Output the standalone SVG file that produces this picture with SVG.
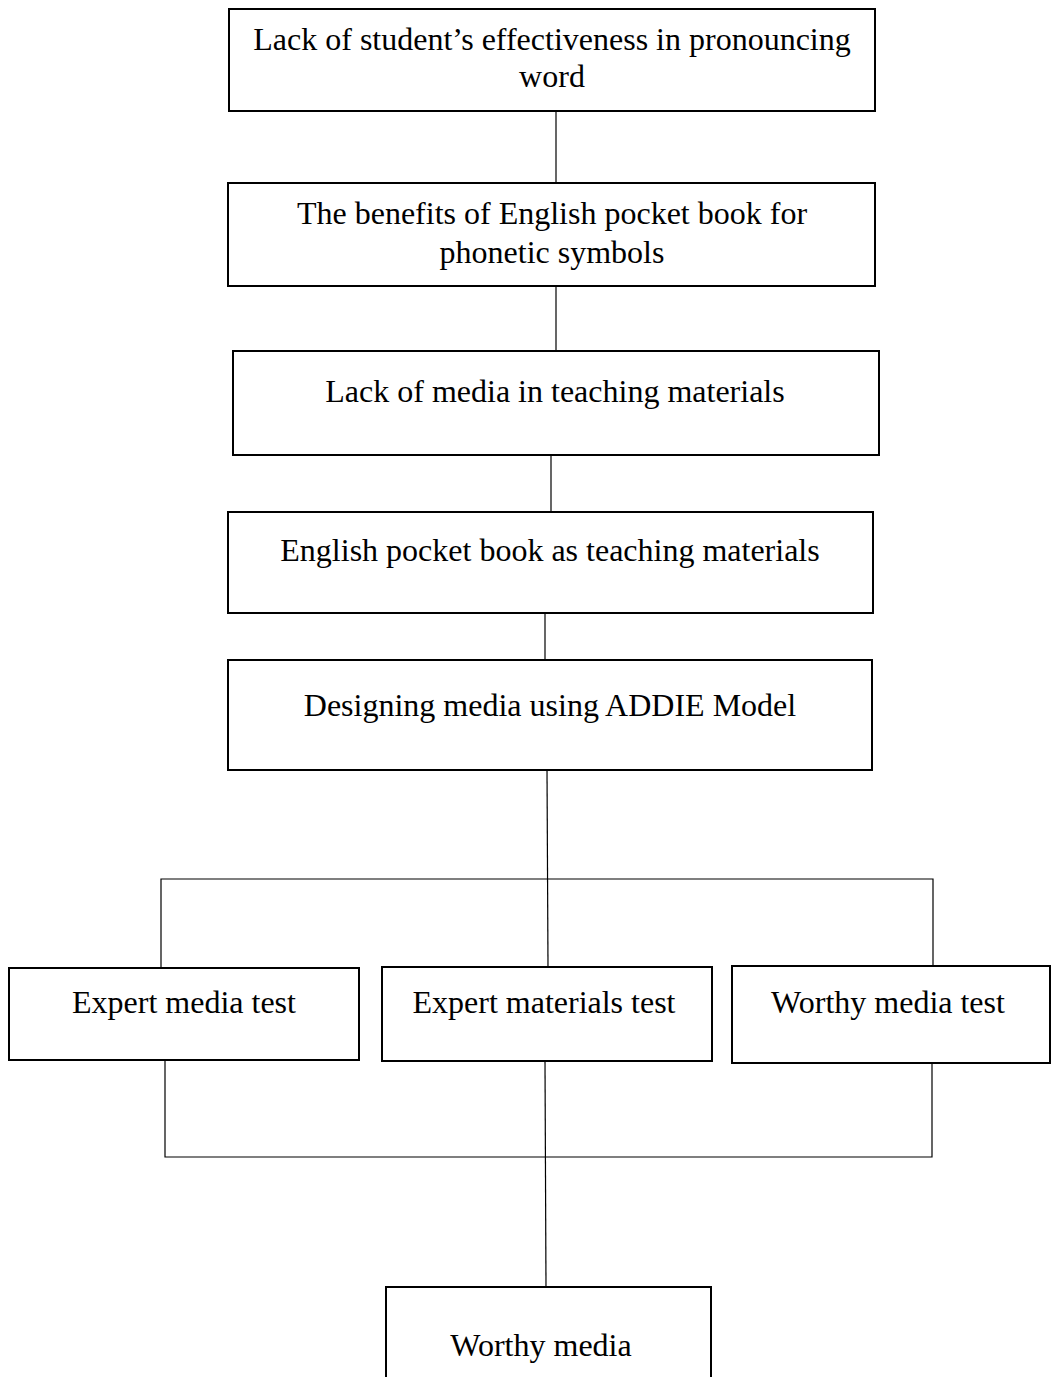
<svg xmlns="http://www.w3.org/2000/svg" width="1054" height="1377" viewBox="0 0 1054 1377">
<style>
.box{fill:#fff;stroke:#000;stroke-width:2}
.t{font-family:"Liberation Serif","Times New Roman",serif;font-size:32px;fill:#000;text-anchor:middle}
.c{stroke:#000;stroke-width:1.2;fill:none}
</style>
<rect width="1054" height="1377" fill="#fff"/>
<g id="connectors">
<line class="c" x1="556" y1="111" x2="556" y2="183"/>
<line class="c" x1="556" y1="286" x2="556" y2="351"/>
<line class="c" x1="551" y1="455" x2="551" y2="512"/>
<line class="c" x1="545" y1="613" x2="545" y2="660"/>
<line class="c" x1="547" y1="770" x2="548" y2="967"/>
<polyline class="c" points="161,968 161,879 933,879 933,966"/>
<polyline class="c" points="165,1061 165,1157 932,1157 932,1064"/>
<line class="c" x1="545" y1="1062" x2="546" y2="1287"/>
</g>
<g id="n1"><rect class="box" x="229" y="9" width="646" height="102"/><text class="t" x="552" y="50">Lack of student’s effectiveness in pronouncing</text><text class="t" x="552" y="87">word</text></g>
<g id="n2"><rect class="box" x="228" y="183" width="647" height="103"/><text class="t" x="552" y="224">The benefits of English pocket book for</text><text class="t" x="552" y="263">phonetic symbols</text></g>
<g id="n3"><rect class="box" x="233" y="351" width="646" height="104"/><text class="t" x="555" y="402">Lack of media in teaching materials</text></g>
<g id="n4"><rect class="box" x="228" y="512" width="645" height="101"/><text class="t" x="550" y="561">English pocket book as teaching materials</text></g>
<g id="n5"><rect class="box" x="228" y="660" width="644" height="110"/><text class="t" x="550" y="716">Designing media using ADDIE Model</text></g>
<g id="n6"><rect class="box" x="9" y="968" width="350" height="92"/><text class="t" x="184" y="1013">Expert media test</text></g>
<g id="n7"><rect class="box" x="382" y="967" width="330" height="94"/><text class="t" x="544" y="1013">Expert materials test</text></g>
<g id="n8"><rect class="box" x="732" y="966" width="318" height="97"/><text class="t" x="888" y="1013">Worthy media test</text></g>
<g id="n9"><rect class="box" x="386" y="1287" width="325" height="110"/><text class="t" x="541" y="1356">Worthy media</text></g>
</svg>
